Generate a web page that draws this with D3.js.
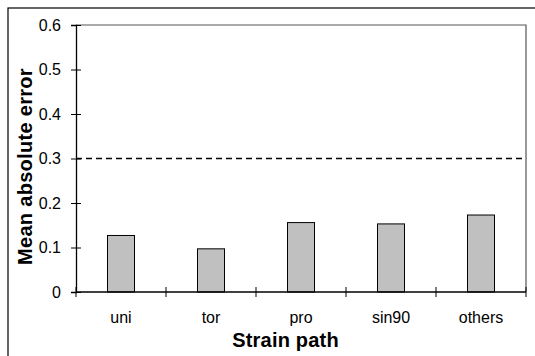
<!DOCTYPE html>
<html>
<head>
<meta charset="utf-8">
<script src="https://cdn.jsdelivr.net/npm/d3@7"></script>
<style>
  html, body { margin: 0; padding: 0; background: #fff; }
  svg { display: block; }
  text { font-family: Arial, "Liberation Sans", sans-serif; }
</style>
</head>
<body>
<svg id="chart" width="535" height="356"></svg>
<script>
// Strain paths and their mean absolute error
const categories = ["uni", "tor", "pro", "sin90", "others"];
const errors = [0.127, 0.097, 0.156, 0.153, 0.173];
const yTicks = [0, 0.1, 0.2, 0.3, 0.4, 0.5, 0.6];
const threshold = 0.3;

const svg = d3.select("#chart");
const plot = { left: 76, right: 526, top: 25, bottom: 292 };
const FONT = "Arial, 'Liberation Sans', sans-serif";

// Outer chart frame (top and left edges visible in the window)
svg.append("rect")
  .attr("x", 8).attr("y", 8)
  .attr("width", 600).attr("height", 400)
  .attr("fill", "none").attr("stroke", "#000").attr("stroke-width", 1.2);

const x = d3.scaleBand().domain(categories).range([plot.left, plot.right]);
const y = d3.scaleLinear().domain([0, 0.6]).range([plot.bottom, plot.top]);

// Plot area border (top and right)
svg.append("path")
  .attr("d", `M${plot.left},${plot.top}H${plot.right}V${plot.bottom}`)
  .attr("fill", "none").attr("stroke", "#555").attr("stroke-width", 1.2);

// Bars
const barW = x.bandwidth() * 0.3;
svg.append("g").selectAll("rect")
  .data(categories)
  .join("rect")
  .attr("x", (d) => x(d) + x.bandwidth() / 2 - barW / 2)
  .attr("y", (d, i) => y(errors[i]))
  .attr("width", barW)
  .attr("height", (d, i) => y(0) - y(errors[i]))
  .attr("fill", "#c0c0c0")
  .attr("stroke", "#000")
  .attr("stroke-width", 1);

// Threshold line
svg.append("line")
  .attr("x1", plot.left).attr("x2", plot.right)
  .attr("y1", y(threshold)).attr("y2", y(threshold))
  .attr("stroke", "#000").attr("stroke-width", 1.5)
  .attr("stroke-dasharray", "6,4");

// Y axis
const yAxis = svg.append("g")
  .attr("transform", `translate(${plot.left},0)`)
  .call(d3.axisLeft(y).tickValues(yTicks).tickSize(5).tickPadding(10)
    .tickFormat((d) => d === 0 ? "0" : d3.format(".1f")(d)));
yAxis.attr("font-size", 16).attr("font-family", FONT);
yAxis.select(".domain").attr("stroke", "#000").attr("stroke-width", 1.3);
yAxis.selectAll(".tick line").attr("x2", -5).attr("x1", 5).attr("stroke", "#000");
yAxis.selectAll(".tick text").attr("fill", "#000");

// X axis: ticks on category boundaries, labels centred in bands
const xAxis = svg.append("g")
  .attr("transform", `translate(0,${plot.bottom})`)
  .attr("font-size", 16).attr("font-family", FONT);
xAxis.append("line")
  .attr("x1", plot.left).attr("x2", plot.right)
  .attr("stroke", "#000").attr("stroke-width", 1.3);
const bounds = categories.map((d) => x(d)).concat([plot.right]);
xAxis.selectAll("line.tick")
  .data(bounds)
  .join("line")
  .attr("class", "tick")
  .attr("x1", (d) => d).attr("x2", (d) => d)
  .attr("y1", -5).attr("y2", 5)
  .attr("stroke", "#000");
xAxis.selectAll("text")
  .data(categories)
  .join("text")
  .attr("x", (d) => x(d) + x.bandwidth() / 2)
  .attr("y", 31)
  .attr("text-anchor", "middle")
  .text((d) => d);

// Axis titles
svg.append("text")
  .attr("x", 285.5).attr("y", 347)
  .attr("text-anchor", "middle")
  .attr("font-size", 20).attr("font-weight", "bold")
  .attr("letter-spacing", 0.2)
  .text("Strain path");

svg.append("text")
  .attr("transform", "translate(32,166.5) rotate(-90)")
  .attr("text-anchor", "middle")
  .attr("font-size", 20).attr("font-weight", "bold")
  .attr("letter-spacing", 0.3)
  .text("Mean absolute error");
</script>
</body>
</html>
